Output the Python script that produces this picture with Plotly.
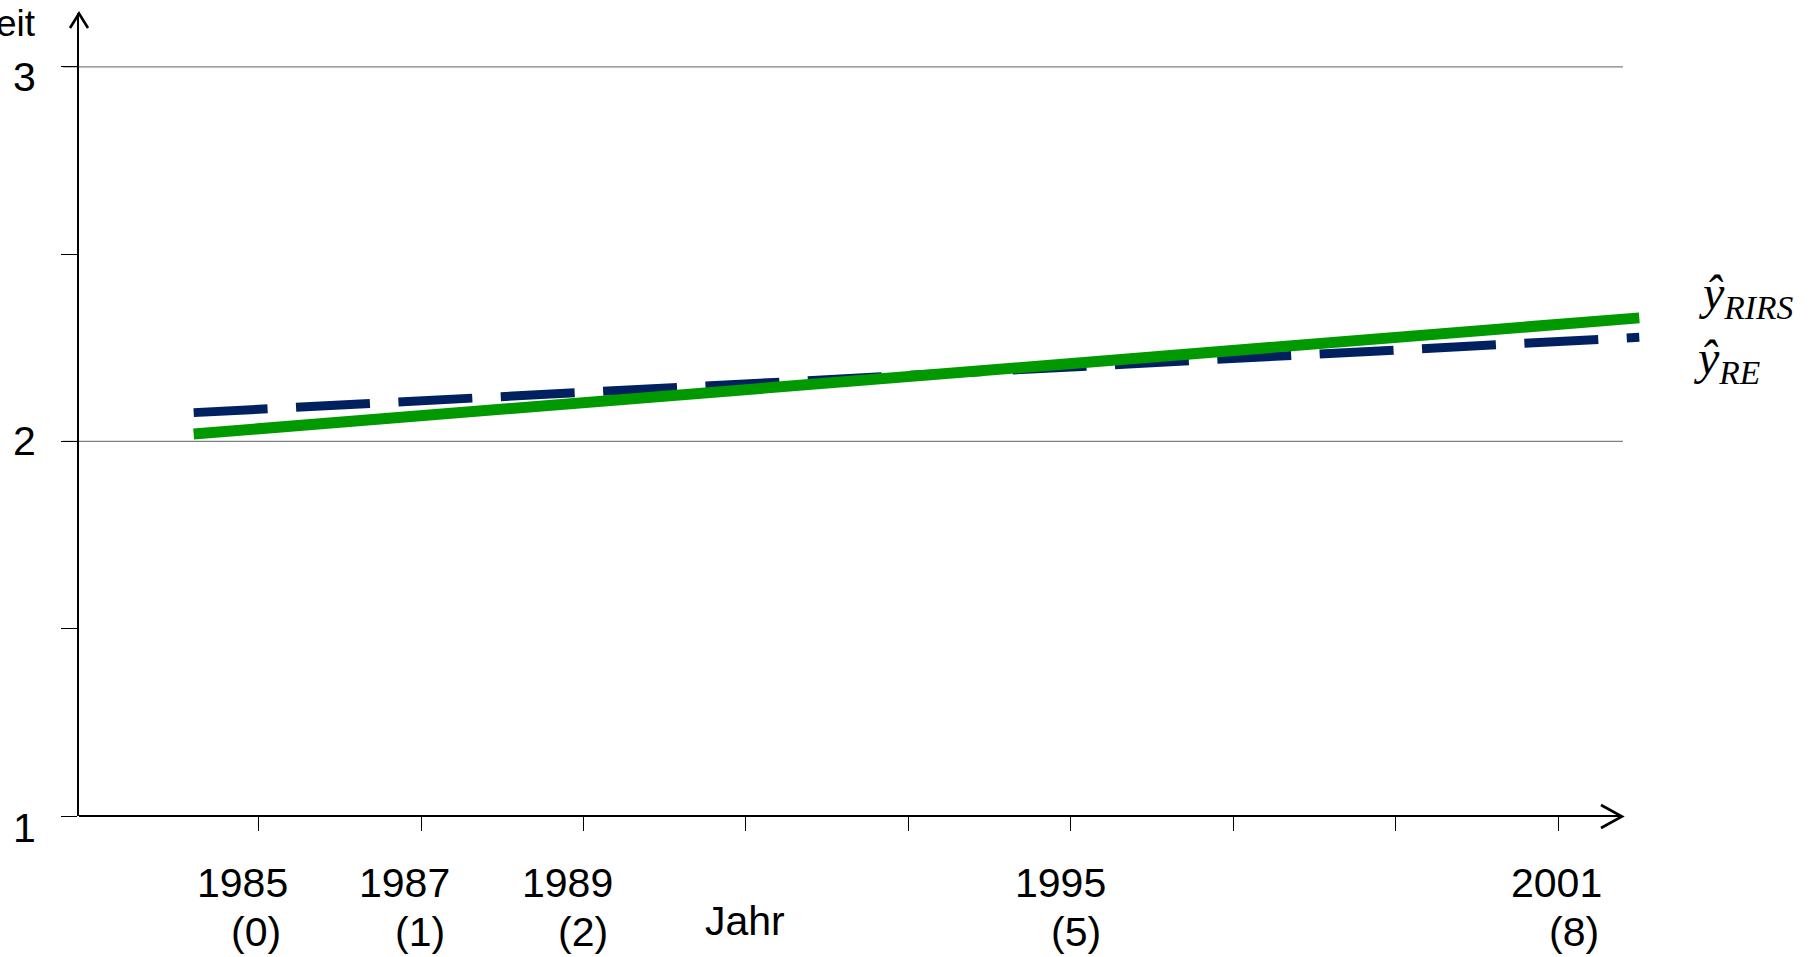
import plotly.graph_objects as go

# ---- data -------------------------------------------------------------
YEARS = [1985, 1987, 1989, 1995, 2001]        # labelled survey years
PERIODS = [0, 1, 2, 5, 8]                     # time index of those years
ALL_PERIODS = list(range(0, 9))               # tick marks on the time axis
Y_LABELS = [1, 2, 3]                          # labelled values on the y axis
Y_TICKS = [1, 1.5, 2, 2.5, 3]                 # tick marks on the y axis
Y_GRID = [2, 3]                               # horizontal reference lines

T_LINE = [-0.4, 8.5]                          # extent of fitted lines (time index)
Y_RIRS = [2.02, 2.33]                         # random intercept / random slope fit
Y_RE = [2.077, 2.278]                         # random effects fit

# ---- geometry ---------------------------------------------------------
W, H = 1815, 957
L, R, T, B = 79, 1650, 13, 816                # plot area in page pixels
X_RANGE = [-1.106, 8.566]
Y_RANGE = [1.0, 3.144]

FONT = "Liberation Sans"
SERIF = "Liberation Serif"
GREEN = "#009900"
NAVY = "#002060"


def paper_x(px):
    return (px - L) / (R - L)


def paper_y(py):
    return (B - py) / (B - T)


def data_to_px_x(v):
    return L + (v - X_RANGE[0]) / (X_RANGE[1] - X_RANGE[0]) * (R - L)


def data_to_px_y(v):
    return B - (v - Y_RANGE[0]) / (Y_RANGE[1] - Y_RANGE[0]) * (B - T)


fig = go.Figure()

fig.add_trace(go.Scatter(
    x=T_LINE, y=Y_RE, mode="lines",
    line=dict(color=NAVY, width=9, dash="74px,28.5px"),
    showlegend=False, hoverinfo="skip",
))
fig.add_trace(go.Scatter(
    x=T_LINE, y=Y_RIRS, mode="lines",
    line=dict(color=GREEN, width=11),
    showlegend=False, hoverinfo="skip",
))

shapes = []
# horizontal reference lines (start a little left of the vertical axis)
for g in Y_GRID:
    gy = paper_y(data_to_px_y(g))
    shapes.append(dict(type="line", xref="paper", yref="paper",
                       x0=paper_x(63), x1=paper_x(1623), y0=gy, y1=gy,
                       line=dict(color="#808080", width=1.3), layer="below"))
# horizontal axis with open arrow head
ax_y = paper_y(data_to_px_y(Y_RANGE[0]))
shapes.append(dict(type="line", xref="paper", yref="paper",
                   x0=paper_x(L), x1=paper_x(1621), y0=ax_y, y1=ax_y,
                   line=dict(color="black", width=2)))
shapes.append(dict(type="path", xref="paper", yref="paper",
                   path=(f"M {paper_x(1601)},{paper_y(805)} "
                         f"L {paper_x(1622)},{paper_y(816.5)} "
                         f"L {paper_x(1601)},{paper_y(828)}"),
                   line=dict(color="black", width=2.6)))
# open arrow head on the vertical axis
shapes.append(dict(type="path", xref="paper", yref="paper",
                   path=(f"M {paper_x(70)},{paper_y(28)} "
                         f"L {paper_x(79)},{paper_y(13.5)} "
                         f"L {paper_x(88)},{paper_y(28)}"),
                   line=dict(color="black", width=2.6)))

annotations = []
# y axis labels
Y_LABEL_SHIFT = [-12, 0, -10]
for v, s in zip(Y_LABELS, Y_LABEL_SHIFT):
    annotations.append(dict(text=str(v), xref="paper", yref="y",
                            x=paper_x(25), y=v, yshift=s,
                            xanchor="center", yanchor="middle", showarrow=False,
                            font=dict(family=FONT, size=41, color="black")))
# cut-off axis title at top left
annotations.append(dict(text="eit", xref="paper", yref="paper",
                        x=paper_x(38), y=paper_y(23),
                        xanchor="right", yanchor="middle", showarrow=False,
                        font=dict(family=FONT, size=37, color="black")))

# year and period labels under the time axis
YEAR_SHIFT = [-16, -17, -16, -10, -2]
PERIOD_SHIFT = [-3, -1, -1, 5, 16]
for yr, p, s1, s2 in zip(YEARS, PERIODS, YEAR_SHIFT, PERIOD_SHIFT):
    annotations.append(dict(text=str(yr), xref="x", yref="paper",
                            x=p, xshift=s1, y=paper_y(883),
                            xanchor="center", yanchor="middle", showarrow=False,
                            font=dict(family=FONT, size=41, color="black")))
    annotations.append(dict(text=f"({p})", xref="x", yref="paper",
                            x=p, xshift=s2, y=paper_y(932),
                            xanchor="center", yanchor="middle", showarrow=False,
                            font=dict(family=FONT, size=41, color="black")))

annotations.append(dict(text="Jahr", xref="paper", yref="paper",
                        x=paper_x(745), y=paper_y(921),
                        xanchor="center", yanchor="middle", showarrow=False,
                        font=dict(family=FONT, size=41, color="black")))

# line labels
annotations.append(dict(text="<i>ŷ</i><sub><i>RIRS</i></sub>", xref="paper", yref="paper",
                        x=paper_x(1696), y=paper_y(296),
                        xanchor="left", yanchor="middle", showarrow=False,
                        font=dict(family=SERIF, size=48, color="black")))
annotations.append(dict(text="<i>ŷ</i><sub><i>RE</i></sub>", xref="paper", yref="paper",
                        x=paper_x(1691), y=paper_y(361),
                        xanchor="left", yanchor="middle", showarrow=False,
                        font=dict(family=SERIF, size=48, color="black")))

fig.update_layout(
    width=W, height=H,
    margin=dict(l=L, r=W - R, t=T, b=H - B, pad=0),
    paper_bgcolor="white", plot_bgcolor="white",
    shapes=shapes, annotations=annotations,
    showlegend=False,
)
fig.update_xaxes(
    range=X_RANGE, showgrid=False, zeroline=False, showline=False,
    tickmode="array", tickvals=ALL_PERIODS, showticklabels=False,
    ticks="outside", ticklen=14, tickwidth=1.3, tickcolor="black",
)
fig.update_yaxes(
    range=Y_RANGE, showgrid=False, zeroline=False,
    showline=True, linecolor="black", linewidth=2,
    tickmode="array", tickvals=Y_TICKS, showticklabels=False,
    ticks="outside", ticklen=16, tickwidth=1.3, tickcolor="black",
)

fig.write_html("out.html")
